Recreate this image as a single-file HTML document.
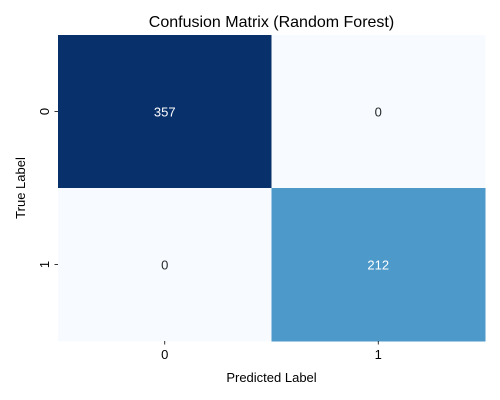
<!DOCTYPE html>
<html><head><meta charset="utf-8"><style>
html,body{margin:0;padding:0;background:#fff;}
svg{display:block;font-family:"Liberation Sans","DejaVu Sans",sans-serif;}
</style></head><body>
<svg id="chart" width="500" height="400" viewBox="0 0 500 400">
<rect width="500" height="400" fill="#fff"/>
<text x="271.5" y="27" text-anchor="middle" font-size="16" fill="#000">Confusion Matrix (Random Forest)</text>
<g id="cells"></g>
<g id="axes"></g>
<text x="271.5" y="382" text-anchor="middle" font-size="13" fill="#000">Predicted Label</text>
<text transform="translate(25,188) rotate(-90)" text-anchor="middle" font-size="13" fill="#000">True Label</text>
</svg>
<script>
const xCategories = ["0", "1"];
const yCategories = ["0", "1"];
const row0 = [357, 0];
const row1 = [0, 212];
const values = [row0, row1];

const plotLeft = 58, plotRight = 485, plotTop = 35, plotBottom = 341;
const cw = (plotRight - plotLeft) / xCategories.length;
const ch = (plotBottom - plotTop) / yCategories.length;
function xPos(i){ return plotLeft + i * cw; }
function yPos(j){ return plotTop + j * ch; }

const stops = [[247,251,255],[222,235,247],[198,219,239],[158,202,225],[107,174,214],[66,146,198],[33,113,181],[8,81,156],[8,48,107]];
function blues(t){
  t = Math.max(0, Math.min(1, t));
  const p = t * (stops.length - 1), i = Math.min(Math.floor(p), stops.length - 2), f = p - i;
  const c = stops[i].map((v, k) => Math.round(v + (stops[i+1][k] - v) * f));
  return { css: 'rgb(' + c.join(',') + ')', lum: (0.299*c[0] + 0.587*c[1] + 0.114*c[2]) / 255 };
}
const allVals = [].concat(...values);
const vmin = Math.min(...allVals), vmax = Math.max(...allVals);
const NS = 'http://www.w3.org/2000/svg';
const cells = document.getElementById('cells');
values.forEach((row, j) => row.forEach((v, i) => {
  const col = blues((v - vmin) / (vmax - vmin || 1));
  const r = document.createElementNS(NS, 'rect');
  r.setAttribute('x', xPos(i)); r.setAttribute('y', yPos(j));
  r.setAttribute('width', cw + 0.5); r.setAttribute('height', ch + 0.5);
  r.setAttribute('fill', col.css);
  
  
  cells.appendChild(r);
  const t = document.createElementNS(NS, 'text');
  t.setAttribute('x', xPos(i) + cw / 2); t.setAttribute('y', yPos(j) + ch / 2 + 5);
  t.setAttribute('text-anchor', 'middle'); t.setAttribute('font-size', '13');
  t.setAttribute('fill', col.lum < 0.6 ? '#fff' : '#262626');
  t.textContent = v;
  
  
  cells.appendChild(t);
}));
const axes = document.getElementById('axes');
xCategories.forEach((c, i) => {
  const x = xPos(i) + cw / 2;
  const l = document.createElementNS(NS, 'line');
  l.setAttribute('x1', x); l.setAttribute('x2', x); l.setAttribute('y1', plotBottom); l.setAttribute('y2', plotBottom + 3.5);
  l.setAttribute('stroke', '#000'); l.setAttribute('stroke-width', '0.8');
  
  
  axes.appendChild(l);
  const t = document.createElementNS(NS, 'text');
  t.setAttribute('x', x); t.setAttribute('y', plotBottom + 18);
  t.setAttribute('text-anchor', 'middle'); t.setAttribute('font-size', '13');
  t.textContent = c;
  
  
  axes.appendChild(t);
});
yCategories.forEach((c, j) => {
  const y = yPos(j) + ch / 2;
  const l = document.createElementNS(NS, 'line');
  l.setAttribute('x1', plotLeft - 3.5); l.setAttribute('x2', plotLeft); l.setAttribute('y1', y); l.setAttribute('y2', y);
  l.setAttribute('stroke', '#000'); l.setAttribute('stroke-width', '0.8');
  
  
  axes.appendChild(l);
  const t = document.createElementNS(NS, 'text');
  t.setAttribute('transform', 'translate(' + (plotLeft - 9) + ',' + y + ') rotate(-90)');
  t.setAttribute('text-anchor', 'middle'); t.setAttribute('font-size', '13');
  t.textContent = c;
  
  
  axes.appendChild(t);
});
</script>
</body></html>
